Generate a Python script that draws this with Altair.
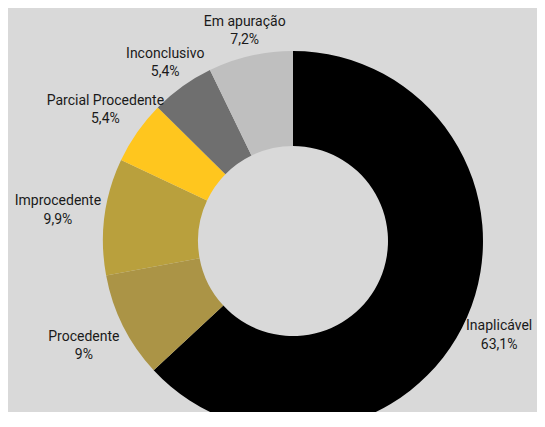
import altair as alt
import pandas as pd

categories = ["Inaplicável", "Procedente", "Improcedente", "Parcial Procedente", "Inconclusivo", "Em apuração"]
values = [63.1, 9.0, 9.9, 5.4, 5.4, 7.2]
pct_labels = ["63,1%", "9%", "9,9%", "5,4%", "5,4%", "7,2%"]
colors = ["#000000", "#ab9446", "#b9a03d", "#ffc61e", "#6f6f6f", "#bfbfbf"]

df = pd.DataFrame({
    "idx": list(range(len(categories))),
    "cat": categories,
    "value": values,
    "pct": pct_labels,
})

W, H = 529, 404
CX, CY = 285, 233
R_OUT, R_IN = 190, 95
GAP = 6.5
CHAR_W = 6.7
LINE_H = 18.5

base = alt.Chart(df)

arcs = base.mark_arc(outerRadius=R_OUT, innerRadius=R_IN).encode(
    theta=alt.Theta("value:Q", stack=True),
    order=alt.Order("idx:Q"),
    color=alt.Color("cat:N", scale=alt.Scale(domain=categories, range=colors), legend=None),
    x=alt.value(CX),
    y=alt.value(CY),
)

labels = base.transform_joinaggregate(
    total="sum(value)"
).transform_window(
    cum="sum(value)", sort=[alt.SortField("idx")]
).transform_calculate(
    mid="2*PI*(datum.cum - datum.value/2)/datum.total",
    label="datum.cat + '\\n' + datum.pct",
    hw=f"length(datum.cat)*{CHAR_W}/2",
).transform_calculate(
    t=f"min(datum.hw/(abs(sin(datum.mid))+1e-6), {LINE_H}/(abs(cos(datum.mid))+1e-6))",
).transform_calculate(
    r=f"{R_OUT} + {GAP} + datum.t",
).transform_calculate(
    lx=f"min({CX} + datum.r*sin(datum.mid), {W} - datum.hw - 1)",
    ly=f"{CY} - datum.r*cos(datum.mid) - {LINE_H}/2",
).mark_text(
    font="Roboto", fontSize=14, color="#1a1a1a", lineBreak="\n", lineHeight=LINE_H,
    align="center", baseline="middle",
).encode(
    x=alt.X("lx:Q", scale=None, axis=None),
    y=alt.Y("ly:Q", scale=None, axis=None),
    text="label:N",
)

chart = alt.layer(arcs, labels).properties(
    width=W, height=H,
    autosize=alt.AutoSizeParams(type="none"),
    padding=0,
    background="#d9d9d9",
).configure_view(stroke=None)

chart.save("out.html", embed_options={"renderer": "svg", "actions": False})
